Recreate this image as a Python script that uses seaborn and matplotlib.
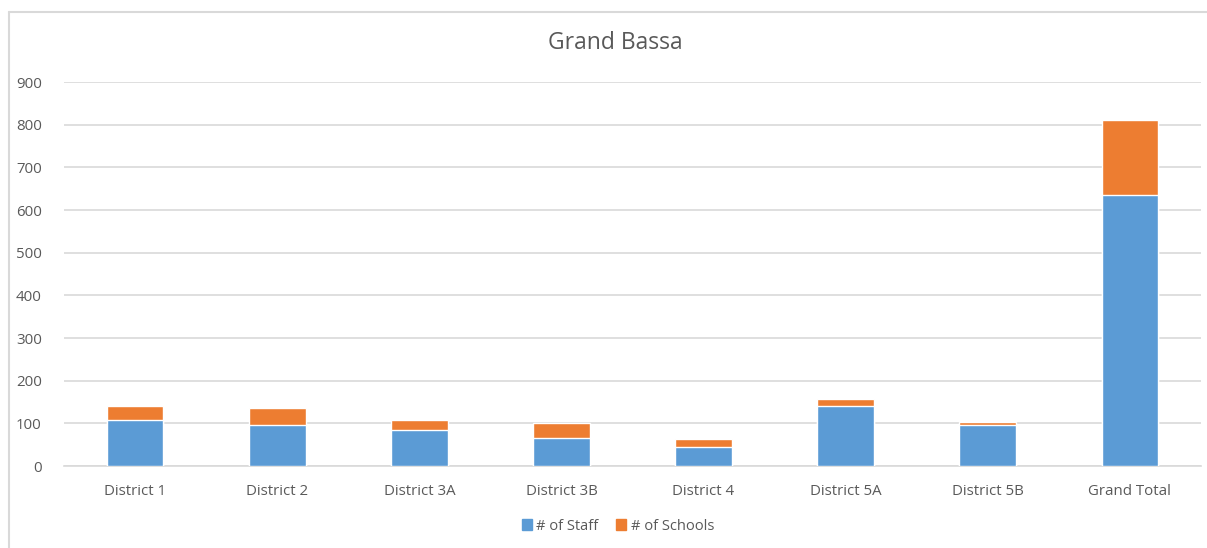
import pandas as pd
import matplotlib.pyplot as plt
import seaborn as sns
from matplotlib.patches import Patch
from matplotlib.lines import Line2D

districts = ['District 1', 'District 2', 'District 3A', 'District 3B',
             'District 4', 'District 5A', 'District 5B', 'Grand Total']
staff = [108, 95, 84, 66, 45, 141, 95, 635]
schools = [33, 41, 24, 35, 18, 15, 8, 177]

blue = '#5B9BD5'
orange = '#ED7D31'
grey_text = '#595959'

df = pd.DataFrame({'District': districts, 'Staff': staff, 'Schools': schools})
df['Total'] = df['Staff'] + df['Schools']

sns.set_theme(style='white')
plt.rcParams['font.family'] = ['Open Sans', 'DejaVu Sans']

fig = plt.figure(figsize=(12.07, 5.48), dpi=100)
ax = fig.add_axes([64 / 1207, 1 - 466 / 548, (1201 - 64) / 1207, (466 - 82) / 548])

# stacked: draw totals in orange, then staff in blue on top
sns.barplot(data=df, x='District', y='Total', color=orange, width=0.4,
            saturation=1, ax=ax, zorder=3)
sns.barplot(data=df, x='District', y='Staff', color=blue, width=0.4,
            saturation=1, ax=ax, zorder=4)

ax.set_ylim(0, 900)
ax.set_yticks(range(0, 901, 100))
ax.set_xlim(-0.5, len(districts) - 0.5)
ax.grid(axis='y', color='#d9d9d9', linewidth=1.2, zorder=0)
ax.set_axisbelow(True)
for s in ['top', 'right', 'left']:
    ax.spines[s].set_visible(False)
ax.spines['bottom'].set_color('#d9d9d9')
ax.spines['bottom'].set_linewidth(1.2)
ax.tick_params(axis='both', length=0, labelsize=10.8, colors=grey_text)
ax.tick_params(axis='x', pad=13)
ax.tick_params(axis='y', pad=16)
ax.set_xlabel('')
ax.set_ylabel('')

fig.text(615 / 1207, 1 - 43 / 548, 'Grand Bassa', ha='center', va='center',
         fontsize=16.5, color=grey_text)

handles = [Patch(color=blue, label='# of Staff'), Patch(color=orange, label='# of Schools')]
fig.legend(handles=handles, loc='center', bbox_to_anchor=(618 / 1207, 1 - 526 / 548),
           ncol=2, frameon=False, fontsize=10.5, handlelength=0.7, handleheight=0.7,
           handletextpad=0.3, columnspacing=1.2, labelcolor=grey_text)

# chart border: only left and top edges are visible in the original crop
bx = 8.5 / 1207
by = 1 - 11.5 / 548
fig.lines.append(Line2D([bx, bx], [0, by], transform=fig.transFigure,
                        color='#d9d9d9', linewidth=1.5))
fig.lines.append(Line2D([bx, 1], [by, by], transform=fig.transFigure,
                        color='#d9d9d9', linewidth=1.5))

plt.savefig('out.png', dpi=100)
